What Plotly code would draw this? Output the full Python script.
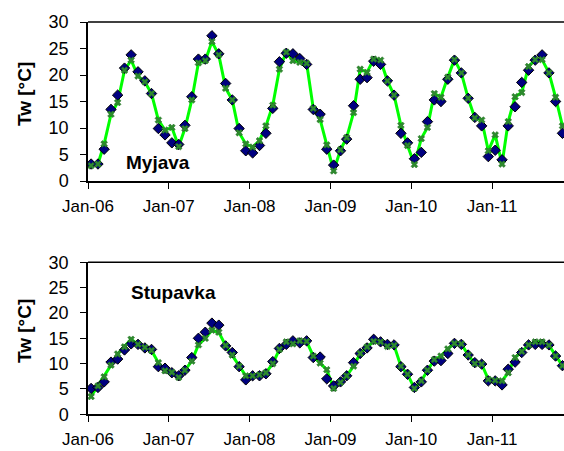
import pandas as pd
import plotly.graph_objects as go

# Monthly sampling, Jan 2006 - Nov 2011 (plotted mid-month)
months = pd.date_range("2006-01-01", periods=71, freq="MS") + pd.Timedelta(days=14)

# Myjava: measured and simulated water temperature [°C]
myjava_obs = [3.2, 3.2, 6.0, 13.5, 16.2, 21.3, 23.8, 20.6, 18.9, 16.5, 9.9, 8.7,
              7.2, 6.9, 10.5, 15.9, 23.0, 23.0, 27.4, 24.0, 18.4, 15.3, 9.9, 5.7,
              5.3, 6.7, 9.0, 13.7, 22.5, 24.1, 24.0, 23.1, 22.0, 13.5, 12.6, 6.0,
              3.0, 5.7, 7.9, 14.2, 19.2, 19.5, 22.6, 22.0, 18.9, 16.2, 9.0, 7.2,
              4.2, 5.4, 11.2, 15.3, 15.0, 19.2, 22.8, 20.4, 15.6, 12.0, 10.4, 4.6,
              5.8, 4.0, 10.4, 14.0, 18.6, 20.9, 22.8, 23.8, 20.4, 15.0, 9.0]
myjava_sim = [2.9, 3.2, 7.0, 12.6, 14.8, 20.9, 22.8, 19.8, 18.7, 16.5, 11.5, 9.6,
              10.1, 6.5, 9.9, 15.3, 22.3, 22.7, 26.3, 23.8, 17.5, 15.3, 9.1, 7.0,
              6.4, 7.6, 10.4, 14.3, 21.1, 24.3, 22.7, 22.4, 22.2, 13.7, 11.6, 6.8,
              1.9, 5.9, 8.2, 12.9, 21.1, 20.5, 23.0, 22.8, 18.9, 16.2, 10.5, 6.7,
              3.1, 8.0, 10.1, 16.5, 15.8, 19.6, 22.9, 20.4, 15.6, 11.9, 11.5, 5.7,
              8.7, 3.2, 11.2, 15.9, 16.7, 21.6, 22.9, 22.9, 20.4, 15.8, 10.4]

# Stupavka: measured and simulated water temperature [°C]
stupavka_obs = [5.1, 5.3, 6.4, 10.3, 10.9, 12.7, 13.9, 13.8, 13.1, 12.8, 9.4, 9.1,
                8.2, 7.6, 8.7, 11.2, 15.0, 16.2, 18.0, 17.6, 13.5, 12.2, 9.4, 6.8,
                7.6, 7.6, 8.0, 10.4, 13.0, 13.8, 14.5, 14.1, 14.5, 11.2, 11.3, 7.0,
                5.6, 6.4, 7.6, 10.2, 12.0, 13.1, 14.8, 14.3, 13.8, 13.7, 9.4, 7.9,
                5.3, 6.4, 8.7, 10.5, 10.6, 12.0, 14.0, 13.8, 11.7, 10.2, 9.9, 6.6,
                6.6, 5.8, 8.9, 10.3, 12.2, 13.7, 13.8, 13.8, 13.7, 11.5, 9.6]
stupavka_sim = [3.5, 5.6, 7.4, 9.7, 11.9, 13.3, 14.8, 13.8, 13.2, 12.6, 10.2, 8.6,
                8.3, 7.3, 8.7, 10.5, 13.7, 15.0, 16.6, 16.2, 13.6, 11.7, 9.5, 7.6,
                7.6, 7.8, 8.2, 10.0, 12.8, 14.3, 13.9, 14.5, 14.4, 11.5, 10.1, 8.8,
                5.1, 6.3, 7.6, 9.5, 12.0, 13.3, 14.4, 14.3, 13.4, 13.6, 9.5, 7.9,
                5.1, 6.6, 8.7, 10.8, 11.5, 12.9, 14.0, 13.9, 11.7, 10.0, 9.9, 6.9,
                6.7, 6.6, 8.2, 11.2, 12.4, 13.7, 14.3, 14.3, 13.6, 11.5, 9.6]

stations = [("Myjava", myjava_obs, myjava_sim, "x", "y"),
            ("Stupavka", stupavka_obs, stupavka_sim, "x2", "y2")]

FONT = "Arial, 'Liberation Sans', sans-serif"
W, H = 564, 451

fig = go.Figure()
for name, obs, sim, xa, ya in stations:
    # simulated series: bright green line
    fig.add_trace(go.Scatter(x=months, y=sim, mode="lines", xaxis=xa, yaxis=ya,
                             line=dict(color="#00FF00", width=3), showlegend=False))
    # measured series: navy diamonds
    fig.add_trace(go.Scatter(x=months, y=obs, mode="markers", xaxis=xa, yaxis=ya,
                             marker=dict(symbol="diamond", size=8, color="#000080",
                                         line=dict(color="black", width=1)),
                             showlegend=False))
    # simulated series markers
    fig.add_trace(go.Scatter(x=months, y=sim, mode="markers", xaxis=xa, yaxis=ya,
                             marker=dict(symbol="x", size=6, color="#2E8B2E",
                                         line=dict(color="#1E6B1E", width=0.5)),
                             showlegend=False))

x0 = 88 / W
top_dom = [1 - 181 / H, 1 - 22 / H]
bot_dom = [1 - 414.3 / H, 1 - 262.3 / H]
xrange = ["2006-01-01", "2011-11-22"]

xaxis_common = dict(type="date", range=xrange, tick0="2006-01-01", dtick="M12",
                    tickformat="%b-%y", ticks="outside", ticklen=6, tickwidth=1,
                    tickcolor="black", showline=True, linecolor="black", linewidth=1.5,
                    showgrid=False, zeroline=False, ticklabelstandoff=3,
                    automargin=False,
                    tickfont=dict(family=FONT, size=17, color="black"))
yaxis_common = dict(range=[0, 30], dtick=5, ticks="outside", ticklen=6, tickwidth=1,
                    tickcolor="black", showline=True, linecolor="black", linewidth=1.5,
                    showgrid=False, zeroline=False, ticklabelstandoff=8,
                    automargin=False,
                    tickfont=dict(family=FONT, size=18, color="black"))

fig.update_layout(
    template="none",
    width=W, height=H,
    margin=dict(l=0, r=0, t=0, b=0, pad=0),
    paper_bgcolor="white", plot_bgcolor="white",
    xaxis=dict(domain=[x0, 1], anchor="y", **xaxis_common),
    yaxis=dict(domain=top_dom, anchor="x", **yaxis_common),
    xaxis2=dict(domain=[x0, 1], anchor="y2", **xaxis_common),
    yaxis2=dict(domain=bot_dom, anchor="x2", **yaxis_common),
    showlegend=False,
)

# top frame edge of each panel
for ya in ("y", "y2"):
    xr = "x domain" if ya == "y" else "x2 domain"
    fig.add_shape(type="line", xref=xr, yref=f"{ya} domain", x0=0, x1=1, y0=1, y1=1,
                  line=dict(color="black", width=1.5))

# axis titles and station names
for yc in (1 - 94 / H, 1 - 331 / H):
    fig.add_annotation(text="<b>Tw [°C]</b>", xref="paper", yref="paper",
                       x=24 / W, y=yc, xanchor="center", yanchor="middle",
                       showarrow=False, textangle=-90,
                       font=dict(family=FONT, size=19, color="black"))
fig.add_annotation(text="<b>Myjava</b>", xref="paper", yref="paper",
                   x=158 / W, y=1 - 163 / H, xanchor="center", yanchor="middle",
                   showarrow=False, font=dict(family=FONT, size=19, color="black"))
fig.add_annotation(text="<b>Stupavka</b>", xref="paper", yref="paper",
                   x=173 / W, y=1 - 292 / H, xanchor="center", yanchor="middle",
                   showarrow=False, font=dict(family=FONT, size=19, color="black"))

fig.write_html("out.html")
